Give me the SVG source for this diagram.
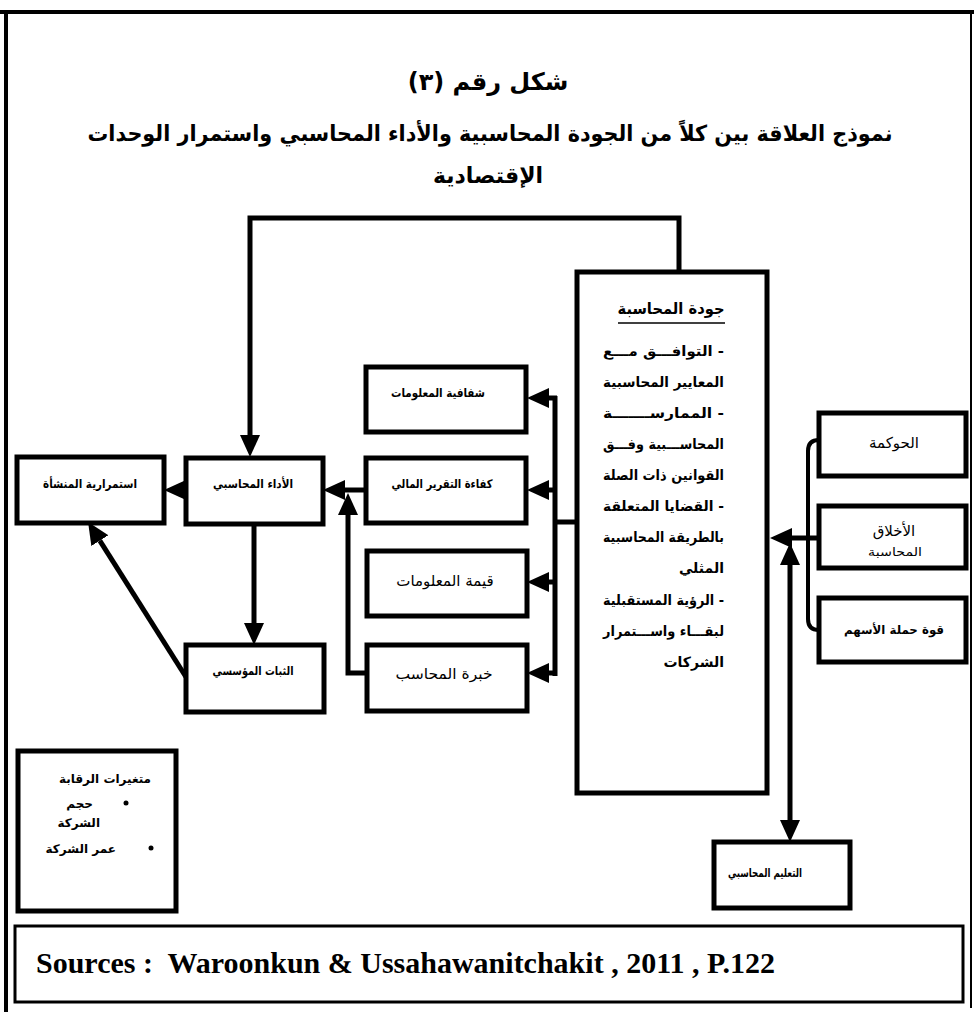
<svg xmlns="http://www.w3.org/2000/svg" width="974" height="1012" viewBox="0 0 974 1012">
<defs>
<style>
.box{fill:#fff;stroke:#000;stroke-width:5}
.ln{fill:none;stroke:#000;stroke-width:5}
.ln4{fill:none;stroke:#000;stroke-width:4}
.ar{font-family:"DejaVu Sans",sans-serif;direction:rtl;fill:#000}
.b{font-weight:bold}
.src{font-family:"Liberation Serif",serif;font-weight:bold;fill:#000}
</style>
<marker id="ah" markerUnits="userSpaceOnUse" markerWidth="22" markerHeight="20" refX="0" refY="10" orient="auto-start-reverse" viewBox="0 0 22 20"><path d="M0,0 L22,10 L0,20 z" fill="#000"/></marker>
</defs>
<rect width="974" height="1012" fill="#fff"/>
<g id="frame">
<path d="M0,12 H974" class="ln4"/>
<path d="M6,12 V1012" class="ln4"/>
<path d="M971,12 V1008" fill="none" stroke="#000" stroke-width="2"/>
</g>
<g id="title">
<text class="ar b" x="488" y="90" font-size="24" text-anchor="middle">شكل رقم (٣)</text>
<text class="ar b" x="490" y="141" font-size="22" text-anchor="middle" textLength="805" lengthAdjust="spacingAndGlyphs">نموذج العلاقة بين كلاً من الجودة المحاسبية والأداء المحاسبي واستمرار الوحدات</text>
<text class="ar b" x="488" y="183" font-size="22" text-anchor="middle">الإقتصادية</text>
</g>
<g id="connectors">
<path class="ln" d="M679,272 V218 H250 V435" marker-end="url(#ah)"/>
<path class="ln" d="M190,490 H186" marker-end="url(#ah)"/>
<path class="ln" d="M254,524 V623" marker-end="url(#ah)"/>
<path class="ln" d="M186,677 L99.8,540.6" marker-end="url(#ah)"/>
<path class="ln" d="M555,396 V676"/>
<path class="ln" d="M557,398 H549" marker-end="url(#ah)"/>
<path class="ln" d="M557,490 H549" marker-end="url(#ah)"/>
<path class="ln" d="M557,582 H549" marker-end="url(#ah)"/>
<path class="ln" d="M557,673 H549" marker-end="url(#ah)"/>
<path class="ln" d="M555,522 H578"/>
<path class="ln" d="M366,490 H345" marker-end="url(#ah)"/>
<path class="ln" d="M368,673 H348 V515" marker-end="url(#ah)"/>
<path class="ln4" d="M819,440 Q808,440 808,451 V619 Q808,630 819,630"/>
<path class="ln" d="M819,538 H792" marker-end="url(#ah)"/>
<path class="ln" d="M790,565 V820" marker-start="url(#ah)" marker-end="url(#ah)"/>
</g>
<g id="quality">
<rect class="box" x="577" y="272" width="190" height="521"/>
<text class="ar b" x="671" y="314" font-size="16" text-anchor="middle" textLength="107" lengthAdjust="spacingAndGlyphs">جودة المحاسبة</text>
<path d="M618,323 H725" stroke="#000" stroke-width="1.5"/>
<text class="ar b" x="724" y="356" font-size="14" text-anchor="start" textLength="121" lengthAdjust="spacingAndGlyphs">- التوافـــق مـــع</text>
<text class="ar b" x="724" y="387" font-size="14" text-anchor="start" textLength="121" lengthAdjust="spacingAndGlyphs">المعايير المحاسبية</text>
<text class="ar b" x="724" y="418" font-size="14" text-anchor="start" textLength="121" lengthAdjust="spacingAndGlyphs">- الممارســـــــة</text>
<text class="ar b" x="724" y="449" font-size="14" text-anchor="start" textLength="121" lengthAdjust="spacingAndGlyphs">المحاســـبية وفـــق</text>
<text class="ar b" x="724" y="480" font-size="14" text-anchor="start" textLength="121" lengthAdjust="spacingAndGlyphs">القوانين ذات الصلة</text>
<text class="ar b" x="724" y="511" font-size="14" text-anchor="start" textLength="121" lengthAdjust="spacingAndGlyphs">- القضايا   المتعلقة</text>
<text class="ar b" x="724" y="542" font-size="14" text-anchor="start" textLength="121" lengthAdjust="spacingAndGlyphs">بالطريقة   المحاسبية</text>
<text class="ar b" x="724" y="573" font-size="14" text-anchor="start">المثلي</text>
<text class="ar b" x="724" y="605" font-size="14" text-anchor="start" textLength="121" lengthAdjust="spacingAndGlyphs">- الرؤية   المستقبلية</text>
<text class="ar b" x="724" y="636" font-size="14" text-anchor="start" textLength="121" lengthAdjust="spacingAndGlyphs">لبقـــاء واســـتمرار</text>
<text class="ar b" x="724" y="667" font-size="14" text-anchor="start">الشركات</text>
</g>
<g id="n-shafafiya">
<rect class="box" x="366" y="367" width="160" height="65"/>
<text class="ar b" x="438" y="397" font-size="12" text-anchor="middle" textLength="94" lengthAdjust="spacingAndGlyphs">شفافية المعلومات</text>
</g>
<g id="n-kafaa">
<rect class="box" x="366" y="458" width="160" height="65"/>
<text class="ar b" x="442" y="488" font-size="12" text-anchor="middle" textLength="101" lengthAdjust="spacingAndGlyphs">كفاءة التقرير المالي</text>
</g>
<g id="n-qima">
<rect class="box" x="367" y="551" width="160" height="65"/>
<text class="ar" x="445" y="586" font-size="15" text-anchor="middle">قيمة المعلومات</text>
</g>
<g id="n-khibra">
<rect class="box" x="367" y="645" width="160" height="66"/>
<text class="ar" x="444" y="679" font-size="15" text-anchor="middle" textLength="97" lengthAdjust="spacingAndGlyphs">خبرة المحاسب</text>
</g>
<g id="n-adaa">
<rect class="box" x="186" y="458" width="137" height="66"/>
<text class="ar b" x="253" y="488" font-size="12" text-anchor="middle" textLength="80" lengthAdjust="spacingAndGlyphs">الأداء المحاسبي</text>
</g>
<g id="n-istimrar">
<rect class="box" x="17" y="457" width="147" height="66"/>
<text class="ar b" x="90" y="488" font-size="12" text-anchor="middle" textLength="94" lengthAdjust="spacingAndGlyphs">استمرارية المنشأة</text>
</g>
<g id="n-thabat">
<rect class="box" x="186" y="645" width="138" height="67"/>
<text class="ar b" x="253" y="675" font-size="12" text-anchor="middle" textLength="81" lengthAdjust="spacingAndGlyphs">الثبات المؤسسي</text>
</g>
<g id="n-hawkama">
<rect class="box" x="819" y="413" width="147" height="63"/>
<text class="ar" x="894" y="448" font-size="15" text-anchor="middle">الحوكمة</text>
</g>
<g id="n-akhlaq">
<rect class="box" x="819" y="506" width="147" height="62"/>
<text class="ar" x="894" y="536" font-size="15" text-anchor="middle">الأخلاق</text>
<text class="ar" x="895" y="556" font-size="12" text-anchor="middle" textLength="54" lengthAdjust="spacingAndGlyphs">المحاسبة</text>
</g>
<g id="n-quwwa">
<rect class="box" x="819" y="598" width="147" height="64"/>
<text class="ar b" x="894" y="634" font-size="12" text-anchor="middle" textLength="100" lengthAdjust="spacingAndGlyphs">قوة حملة الأسهم</text>
</g>
<g id="n-taalim">
<rect class="box" x="714" y="842" width="136" height="66"/>
<text class="ar b" x="765" y="877" font-size="12" text-anchor="middle" textLength="74" lengthAdjust="spacingAndGlyphs">التعليم المحاسبي</text>
</g>
<g id="n-control">
<rect class="box" x="18" y="751" width="158" height="160"/>
<text class="ar b" x="105" y="783" font-size="12" text-anchor="middle">متغيرات الرقابة</text>
<circle cx="126" cy="803" r="2.5" fill="#000"/>
<text class="ar b" x="93" y="808" font-size="12" text-anchor="start">حجم</text>
<text class="ar b" x="100" y="827" font-size="12" text-anchor="start">الشركة</text>
<circle cx="151" cy="848" r="2.5" fill="#000"/>
<text class="ar b" x="116" y="853" font-size="12" text-anchor="start">عمر الشركة</text>
</g>
<g id="source">
<rect x="15" y="926" width="948" height="76" fill="#fff" stroke="#000" stroke-width="3"/>
<text class="src" x="36" y="973" font-size="30">Sources :&#160; Waroonkun &amp; Ussahawanitchakit , 2011 , P.122</text>
</g>
</svg>
